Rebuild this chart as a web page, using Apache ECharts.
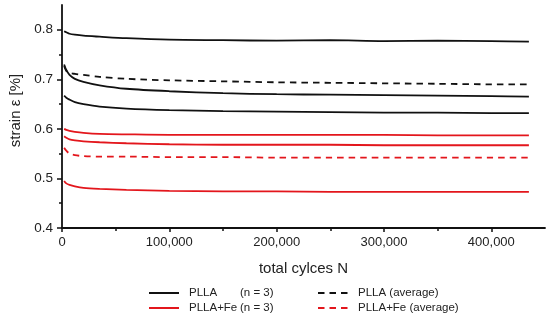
<!DOCTYPE html>
<html><head><meta charset="utf-8">
<script src="https://cdn.jsdelivr.net/npm/echarts@6/dist/echarts.min.js"></script>
<style>html,body{margin:0;padding:0;background:#fff}#c{width:550px;height:321px}</style>
</head><body><div id="c"></div>
<script>
const cycles = [2000, 4000, 7000, 12000, 20000, 35000, 60000, 100000, 150000, 200000, 250000, 300000, 350000, 400000, 435000];
const plla1 = [0.797, 0.795, 0.792, 0.790, 0.788, 0.786, 0.783, 0.780, 0.779, 0.778, 0.779, 0.777, 0.778, 0.777, 0.776];
const plla2 = [0.730, 0.719, 0.709, 0.701, 0.695, 0.688, 0.681, 0.676, 0.672, 0.670, 0.669, 0.668, 0.667, 0.666, 0.665];
const plla3 = [0.667, 0.663, 0.659, 0.654, 0.650, 0.645, 0.641, 0.638, 0.636, 0.635, 0.634, 0.633, 0.633, 0.632, 0.632];
const pllaAvg = [0.727, 0.717, 0.713, 0.711, 0.709, 0.705, 0.701, 0.698, 0.696, 0.694, 0.693, 0.692, 0.691, 0.690, 0.690];
const fe1 = [0.600, 0.598, 0.596, 0.594, 0.592, 0.590, 0.589, 0.588, 0.588, 0.588, 0.588, 0.588, 0.587, 0.587, 0.587];
const fe2 = [0.585, 0.582, 0.579, 0.577, 0.575, 0.573, 0.571, 0.569, 0.568, 0.568, 0.568, 0.567, 0.567, 0.567, 0.567];
const fe3 = [0.495, 0.490, 0.487, 0.484, 0.481, 0.479, 0.477, 0.475, 0.474, 0.474, 0.473, 0.473, 0.473, 0.473, 0.473];
const feAvg = [0.562, 0.556, 0.550, 0.547, 0.545, 0.544, 0.544, 0.543, 0.543, 0.542, 0.542, 0.542, 0.542, 0.542, 0.542];
const xTicks = [0, 100000, 200000, 300000, 400000];
const yTicks = [0.4, 0.5, 0.6, 0.7, 0.8];

const BLACK = '#111', RED = '#e3161c', TXT = '#222';
const FONT = 'Liberation Sans, Arial, sans-serif';
const zip = a => cycles.map((c, i) => [c, a[i]]);
function s(name, data, color, dashed) {
  return {
    name, type: 'line', data: zip(data), symbol: 'circle', showSymbol: false, smooth: 0.3,
    lineStyle: { color, width: 1.8, type: dashed ? [6.5, 5] : 'solid' },
    itemStyle: { color }, z: 3
  };
}
function lg(name, left, top, w, fmt) {
  const o = {
    data: [name], left, top, itemWidth: w, itemHeight: 12, itemGap: 0, padding: 0,
    itemStyle: { opacity: 0 },
    textStyle: { color: TXT, fontSize: 11.5, fontFamily: FONT, padding: [0, 0, 0, 5] }
  };
  if (fmt) {
    o.formatter = n => '{a|' + n + '}(n = 3)';
    o.textStyle.rich = { a: { width: 51, fontSize: 11.5, color: TXT, fontFamily: FONT } };
  }
  return o;
}
const chart = echarts.init(document.getElementById('c'), null, { renderer: 'canvas' });
chart.setOption({
  animation: false,
  textStyle: { fontFamily: FONT },
  grid: { left: 62, right: 5, top: 5, bottom: 93, containLabel: false },
  legend: [
    lg('PLLA', 148, 287, 30, true),
    lg('PLLA+Fe', 148, 302, 30, true),
    lg('PLLA (average)', 317, 287, 30, false),
    lg('PLLA+Fe (average)', 317, 302, 30, false)
  ],
  xAxis: {
    type: 'value', min: 0, max: 450000, interval: 100000,
    name: 'total cylces N', nameLocation: 'middle', nameGap: 33,
    nameTextStyle: { fontSize: 15, color: TXT, fontFamily: FONT },
    axisLine: { lineStyle: { color: BLACK, width: 1.8 } },
    axisTick: { show: true, length: 4, lineStyle: { color: BLACK, width: 1.5 }, customValues: xTicks },
    minorTick: { show: true, splitNumber: 2, length: 3, lineStyle: { color: BLACK, width: 1.5 } },
    splitLine: { show: false },
    axisLabel: { margin: 8, fontSize: 13, color: TXT, customValues: xTicks,
      formatter: v => v === 0 ? '0' : v.toLocaleString('en-US') }
  },
  yAxis: {
    type: 'value', min: 0.4, max: 0.85, interval: 0.1,
    name: 'strain ε [%]', nameLocation: 'middle', nameGap: 39,
    nameTextStyle: { fontSize: 15, color: TXT, fontFamily: FONT, padding: [0, 0, 0, 12] },
    axisLine: { show: true, lineStyle: { color: BLACK, width: 1.8 } },
    axisTick: { show: true, length: 5, lineStyle: { color: BLACK, width: 1.5 }, customValues: yTicks },
    minorTick: { show: true, splitNumber: 2, length: 3, lineStyle: { color: BLACK, width: 1.5 } },
    splitLine: { show: false },
    axisLabel: { margin: 9, fontSize: 13.5, color: TXT, customValues: yTicks,
      formatter: v => v.toFixed(1) }
  },
  series: [
    s('PLLA', plla1, BLACK), s('PLLA', plla2, BLACK), s('PLLA', plla3, BLACK),
    s('PLLA (average)', pllaAvg, BLACK, true),
    s('PLLA+Fe', fe1, RED), s('PLLA+Fe', fe2, RED), s('PLLA+Fe', fe3, RED),
    s('PLLA+Fe (average)', feAvg, RED, true)
  ]
});
</script></body></html>
